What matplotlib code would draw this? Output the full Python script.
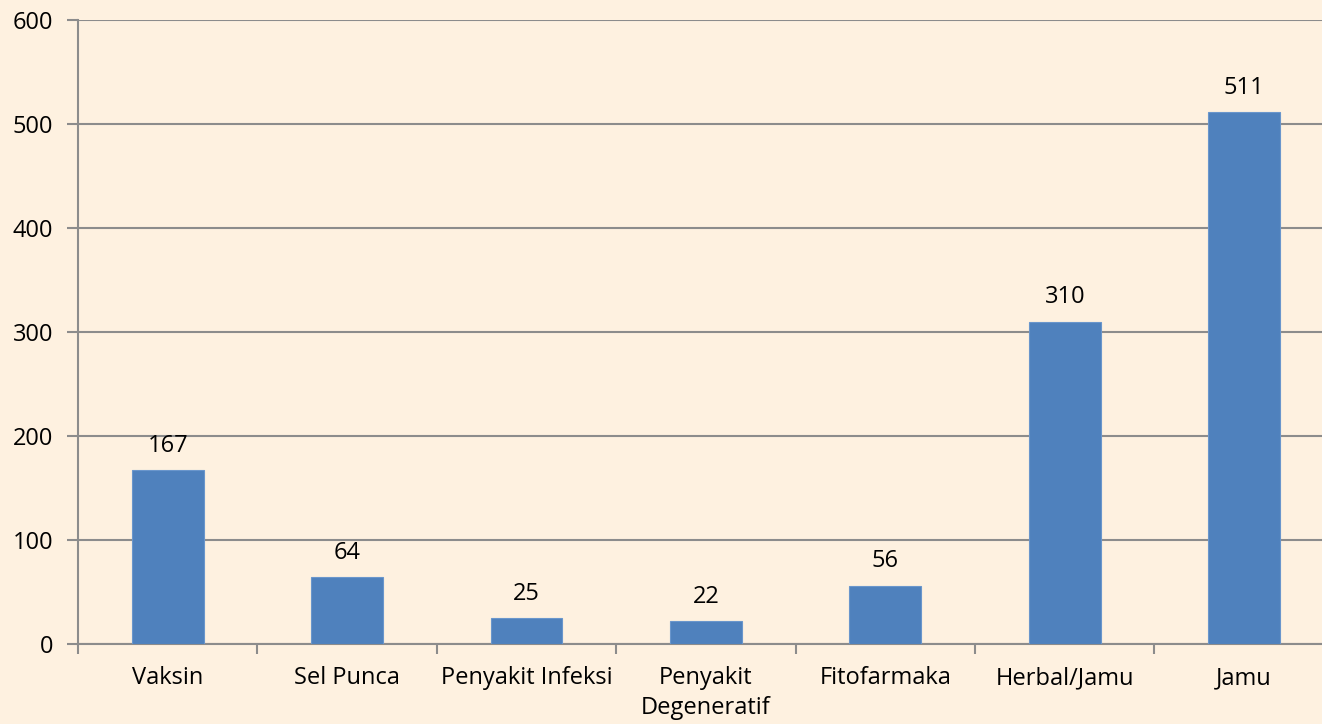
import numpy as np
import matplotlib.pyplot as plt

plt.rcParams['font.family'] = ['Open Sans', 'DejaVu Sans']

categories = ['Vaksin', 'Sel Punca', 'Penyakit Infeksi', 'Penyakit\nDegeneratif',
              'Fitofarmaka', 'Herbal/Jamu', 'Jamu']
values = [167, 64, 25, 22, 56, 310, 511]

bg = '#FEF1E0'
grid_c = '#8C8C8C'

fig = plt.figure(figsize=(13.22, 7.24), dpi=100, facecolor=bg)
ax = fig.add_axes([0.059, 0.1105, 0.950, 0.862], facecolor=bg)

x = np.arange(len(categories))
ax.bar(x, values, width=0.40, color='#4F81BD', edgecolor='#6A96CC', linewidth=0.8, zorder=3)
for xi, v in zip(x, values):
    ax.text(xi, v + 12, str(v), ha='center', va='bottom', fontsize=17)

ax.set_xlim(-0.5, len(categories) - 0.5)
ax.set_ylim(0, 600)
ax.set_yticks(np.arange(0, 601, 100))
ax.yaxis.grid(True, color=grid_c, linewidth=1.5, zorder=0)
ax.set_xticks(x)
ax.set_xticklabels(categories, fontsize=17, linespacing=1.3)
ax.set_xticks(np.arange(-0.5, len(categories)), minor=True)
ax.tick_params(axis='x', which='major', length=0, pad=16)
ax.tick_params(axis='x', which='minor', length=7, width=1.5, color=grid_c)
ax.tick_params(axis='y', length=8, width=1.5, color=grid_c, labelsize=17, pad=10)

for s in ['top', 'right']:
    ax.spines[s].set_visible(False)
for s in ['left', 'bottom']:
    ax.spines[s].set_color(grid_c)
    ax.spines[s].set_linewidth(1.5)

fig.savefig('out.png', dpi=100, facecolor=bg)
